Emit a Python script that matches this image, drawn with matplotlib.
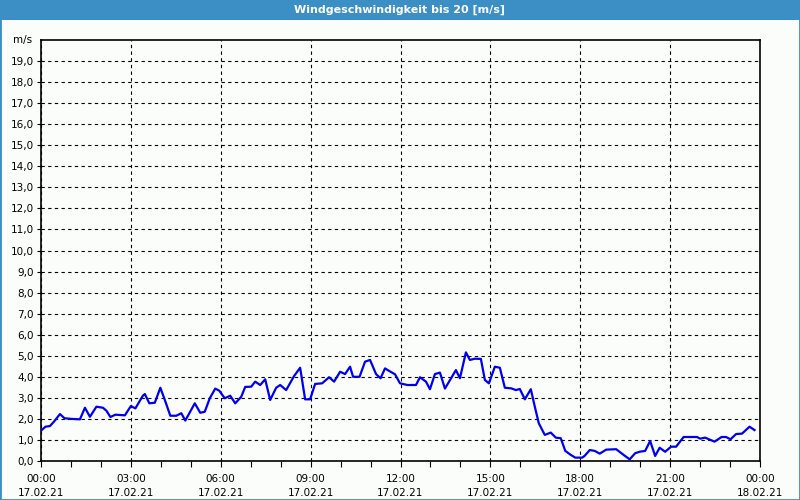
import matplotlib
matplotlib.use('Agg')
import matplotlib.pyplot as plt
from matplotlib.patches import Rectangle

# minutes since 17.02.21 00:00 and wind speed in m/s
minutes = [0, 9, 18, 26, 38, 47, 61, 78, 88, 98, 111, 124, 131, 139, 149, 168,
           180, 189, 204, 208, 217, 228, 239, 248, 259, 271, 281, 289, 308, 319,
           328, 338, 349, 357, 368, 379, 389, 401, 409, 421, 429, 439, 449, 459,
           471, 479, 491, 507, 519, 529, 539, 549, 563, 577, 587, 599, 609, 619,
           625, 638, 649, 659, 671, 680, 689, 700, 709, 719, 734, 751, 759, 771,
           779, 789, 799, 809, 823, 831, 839, 851, 859, 869, 881, 889, 897, 909,
           919, 929, 942, 951, 959, 969, 981, 989, 997, 1009, 1021, 1031, 1041,
           1050, 1061, 1070, 1084, 1089, 1099, 1109, 1119, 1132, 1152, 1169,
           1179, 1190, 1199, 1210, 1220, 1230, 1239, 1250, 1262, 1272, 1287,
           1314, 1320, 1330, 1349, 1363, 1372, 1381, 1392, 1404, 1419, 1429]
speed = [1.44, 1.63, 1.66, 1.87, 2.23, 2.03, 2.0, 1.98, 2.53, 2.1, 2.58, 2.53,
         2.39, 2.09, 2.2, 2.17, 2.61, 2.5, 3.1, 3.18, 2.74, 2.77, 3.48, 2.9,
         2.15, 2.15, 2.27, 1.92, 2.74, 2.29, 2.34, 2.98, 3.44, 3.34, 2.98, 3.1,
         2.74, 3.05, 3.52, 3.53, 3.77, 3.61, 3.88, 2.9, 3.48, 3.61, 3.37, 4.04,
         4.43, 2.93, 2.93, 3.66, 3.69, 3.98, 3.77, 4.24, 4.13, 4.48, 4.0, 4.0,
         4.72, 4.8, 4.13, 3.93, 4.4, 4.24, 4.12, 3.69, 3.61, 3.61, 3.98, 3.77,
         3.41, 4.13, 4.2, 3.44, 4.0, 4.32, 3.93, 5.16, 4.8, 4.86, 4.85, 3.85,
         3.69, 4.48, 4.43, 3.48, 3.45, 3.37, 3.42, 2.93, 3.41, 2.58, 1.79, 1.24,
         1.35, 1.11, 1.08, 0.48, 0.29, 0.16, 0.16, 0.25, 0.52, 0.48, 0.35, 0.54,
         0.56, 0.25, 0.08, 0.37, 0.44, 0.48, 0.95, 0.24, 0.63, 0.44, 0.68, 0.68,
         1.14, 1.14, 1.06, 1.11, 0.92, 1.14, 1.14, 1.03, 1.28, 1.3, 1.63, 1.47]

tick_times = ['00:00', '03:00', '06:00', '09:00', '12:00', '15:00', '18:00', '21:00', '00:00']
tick_dates = ['17.02.21'] * 8 + ['18.02.21']
y_labels = ['%d,0' % v for v in range(20)]

title = 'Windgeschwindigkeit bis 20 [m/s]'
blue_bar = '#3c8fc5'

fig = plt.figure(figsize=(8, 5), dpi=100, facecolor='#fbfdfb')
fig.patches.append(Rectangle((0, 0), 1, 1, transform=fig.transFigure, fill=False,
                             edgecolor=blue_bar, linewidth=2))
fig.patches.append(Rectangle((0, 0.96), 1, 0.04, transform=fig.transFigure,
                             facecolor=blue_bar, edgecolor='none'))
fig.text(0.5, 0.98, title, color='white', fontsize=8, fontweight='bold',
         ha='center', va='center')

ax = fig.add_axes([0.05125, 0.078, 0.89875, 0.842])
ax.set_facecolor('#fbfdfb')
ax.plot(minutes, speed, color='#0000ee', linewidth=1.6, zorder=3)

ax.set_xlim(0, 1440)
ax.set_ylim(0, 20)
ax.set_xticks(range(0, 1441, 180))
ax.set_xticks(range(0, 1441, 60), minor=True)
ax.set_xticklabels([t + '\n' + d for t, d in zip(tick_times, tick_dates)],
                   fontsize=7.5, linespacing=1.6)
ax.set_yticks(range(20))
ax.set_yticklabels(y_labels, fontsize=7.5)
ax.tick_params(axis='both', direction='out', length=3, width=0.8, color='black', pad=2)
ax.tick_params(axis='x', which='minor', length=4, width=0.8)
ax.tick_params(axis='x', which='major', length=4, pad=5)
ax.text(-0.012, 20, 'm/s', transform=ax.get_yaxis_transform(), ha='right',
        va='center', fontsize=7.5)

ax.grid(True, which='major', color='black', linestyle=(0, (3, 3)), linewidth=0.8)
for s in ax.spines.values():
    s.set_color('black')
    s.set_linewidth(1.2)

fig.savefig('out.png', dpi=100, facecolor=fig.get_facecolor())
